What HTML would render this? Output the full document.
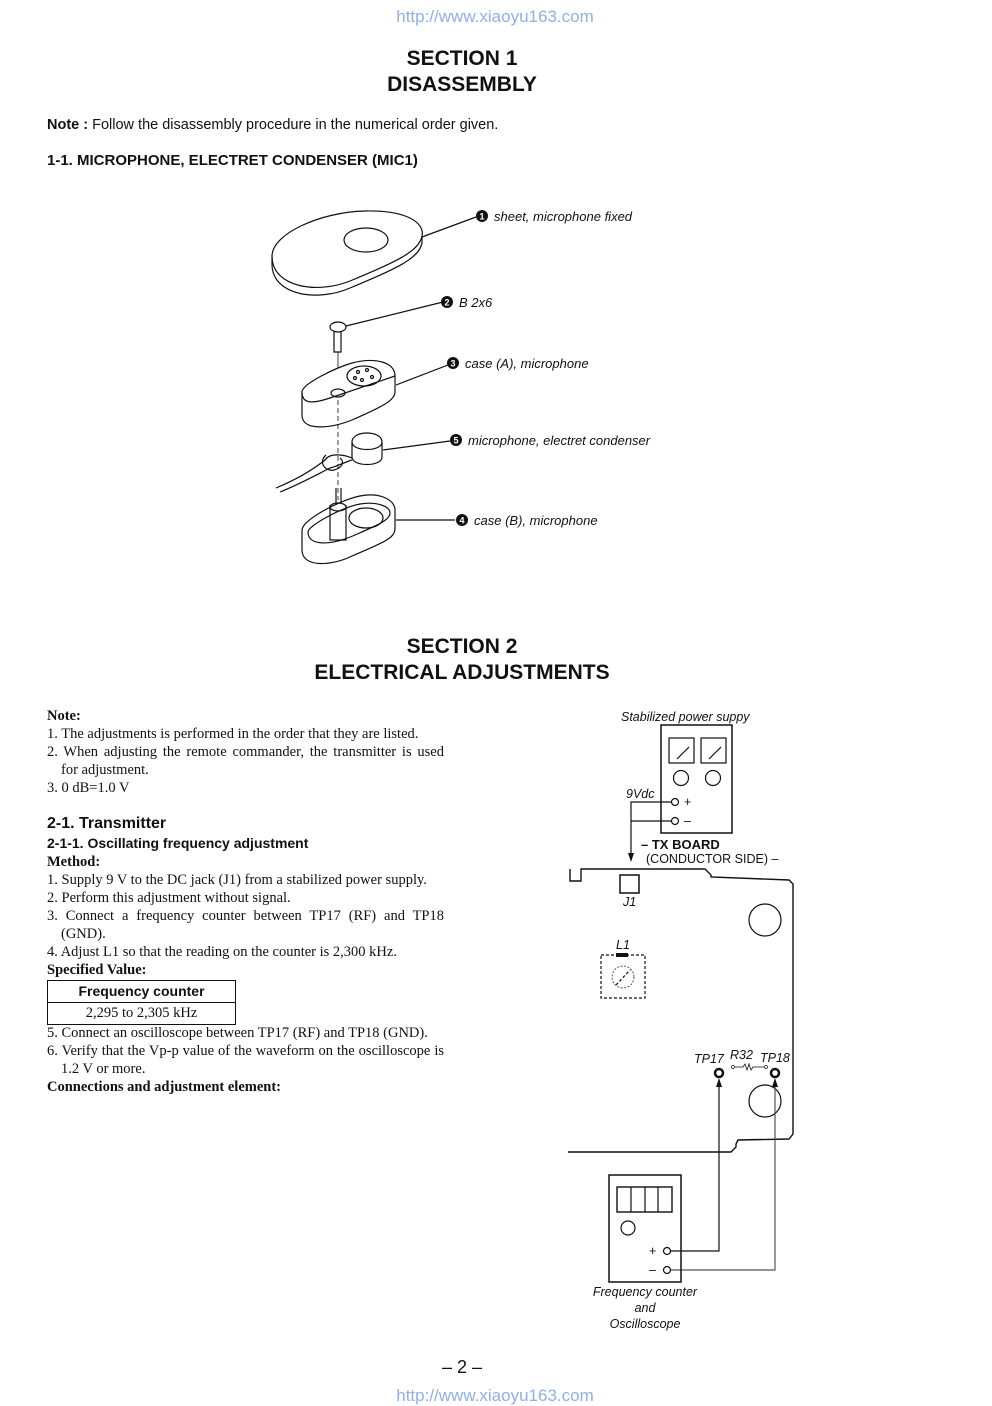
<!DOCTYPE html>
<html><head><meta charset="utf-8">
<style>
html,body{margin:0;padding:0;background:#fff;}
body{width:992px;height:1404px;position:relative;overflow:hidden;font-family:"Liberation Sans",sans-serif;color:#111;}
.a{position:absolute;white-space:nowrap;}
.s{font-family:"Liberation Serif",serif;font-size:14.5px;line-height:18px;}
.j{text-align:justify;text-align-last:justify;white-space:normal;}
.h{font-weight:bold;font-size:21px;left:0;width:924px;text-align:center;}
.wm{color:#8fb0e8;font-size:17px;left:0;width:990px;text-align:center;}
</style></head><body>
<div class="a wm" style="top:7px">http://www.xiaoyu163.com</div>
<div class="a h" style="top:47px">SECTION 1</div>
<div class="a h" style="top:73px">DISASSEMBLY</div>
<div class="a" style="left:47px;top:117px;font-size:14.5px"><b>Note :</b> Follow the disassembly procedure in the numerical order given.</div>
<div class="a" style="left:47px;top:152px;font-size:15px;font-weight:bold">1-1. MICROPHONE, ELECTRET CONDENSER (MIC1)</div>

<svg class="a" style="left:0;top:0" width="992" height="1404" viewBox="0 0 992 1404">
<g fill="none" stroke="#111" stroke-width="1.2">
<!-- sheet -->
<path d="M272 256 C272 234 320 212 365 211 C405 210 425 222 422 236 C419 252 395 262 350 281 C318 294 272 288 272 256 Z" fill="#fff"/>
<path d="M272 256 L272 264 C272 296 318 302 350 288 C395 269 419 259 422 243 L422 236"/>
<ellipse cx="366" cy="240" rx="22" ry="12"/>
<line x1="422" y1="237" x2="476" y2="217"/>
<!-- screw -->
<ellipse cx="338" cy="327" rx="8" ry="5" fill="#fff"/>
<path d="M334 331 L334 352 L341 352 L341 331"/>
<line x1="346" y1="326" x2="443" y2="302"/>
<line x1="338" y1="352" x2="338" y2="395" stroke-width="0.8"/>
<!-- case A -->
<path d="M302 392 C302 384 335 368 352 363 C375 357 395 362 395 376 L395 392 C395 400 384 406 352 420 C332 428 302 432 302 415 Z" fill="#fff"/>
<path d="M302 392 C302 404 312 404 330 398 C360 388 395 376 395 376"/>
<ellipse cx="364" cy="376" rx="17" ry="10"/>
<circle cx="358" cy="372" r="1.5"/><circle cx="367" cy="370" r="1.5"/><circle cx="372" cy="377" r="1.5"/><circle cx="362" cy="380" r="1.5"/><circle cx="355" cy="378" r="1.5"/>
<ellipse cx="338" cy="393" rx="7" ry="4"/>
<line x1="396" y1="385" x2="448" y2="365"/>
<line x1="338" y1="400" x2="338" y2="500" stroke-width="0.8" stroke-dasharray="5 3"/>
<!-- mic 5 -->
<path d="M352 442 C352 430 382 430 382 442 L382 457 C382 467 352 467 352 457 Z" fill="#fff"/>
<path d="M352 442 C352 452 382 452 382 442"/>
<path d="M276 488 C300 478 315 468 325 460 C330 452 345 455 352 458"/>
<path d="M280 492 C300 484 318 474 330 468 C338 466 345 462 352 460"/>
<path d="M326 455 C318 462 325 472 334 470 C342 468 345 462 340 458"/>
<line x1="383" y1="450" x2="450" y2="441"/>
<!-- case B -->
<path d="M302 530 C302 520 340 500 360 496 C380 492 395 500 395 510 L395 528 C395 538 385 542 352 556 C332 566 302 568 302 550 Z" fill="#fff"/>
<path d="M308 532 C308 526 340 508 360 504 C378 501 390 507 390 513 C390 520 378 525 355 535 C330 546 308 546 308 532 Z"/>
<path d="M330 505 L330 540 L346 540 L346 505"/>
<ellipse cx="338" cy="507" rx="8" ry="4"/>
<line x1="336" y1="488" x2="336" y2="503"/><line x1="341" y1="488" x2="341" y2="503"/>
<ellipse cx="366" cy="518" rx="17" ry="10"/>
<line x1="396" y1="520" x2="455" y2="520"/>
</g>
<g fill="#111" font-family="Liberation Sans,sans-serif" font-size="9" font-weight="bold" text-anchor="middle">
<circle cx="482" cy="216" r="6"/><circle cx="447" cy="302" r="6"/><circle cx="453" cy="363" r="6"/><circle cx="456" cy="440" r="6"/><circle cx="462" cy="520" r="6"/>
<g fill="#fff"><text x="482" y="219.5">1</text><text x="447" y="305.5">2</text><text x="453" y="366.5">3</text><text x="456" y="443.5">5</text><text x="462" y="523.5">4</text></g>
</g>
<g font-family="Liberation Sans,sans-serif" font-size="13" font-style="italic" fill="#111">
<text x="494" y="221">sheet, microphone fixed</text>
<text x="459" y="307">B 2x6</text>
<text x="465" y="368">case (A), microphone</text>
<text x="468" y="445">microphone, electret condenser</text>
<text x="474" y="525">case (B), microphone</text>
</g>

<!-- circuit -->
<g fill="none" stroke="#111" stroke-width="1.2">
<rect x="661" y="725" width="71" height="108" stroke-width="1.5"/>
<rect x="669" y="738" width="25" height="25"/><rect x="701" y="738" width="25" height="25"/>
<line x1="677" y1="759" x2="689" y2="747"/><line x1="709" y1="759" x2="721" y2="747"/>
<circle cx="681" cy="778" r="7.5"/><circle cx="713" cy="778" r="7.5"/>
<circle cx="675" cy="802" r="3.5"/><circle cx="675" cy="821" r="3.5"/>
<path d="M671 802 L631 802 L631 857"/><path d="M671 821 L631 821"/>
<path d="M570 869 L570 881 L581 881 L581 869 L705 869 L711 875 L711 877 L789 880 L793 884 L793 1134 L789 1139 L738 1140 L736 1144 L736 1147 L731 1152 L568 1152" stroke-width="1.4"/>
<rect x="620" y="875" width="19" height="18" stroke-width="1.5"/>
<circle cx="765" cy="920" r="16"/>
<circle cx="765" cy="1101" r="16"/>
<rect x="601" y="955" width="44" height="43" stroke-dasharray="3 2"/>
<circle cx="623" cy="977" r="11" stroke-width="0.7" stroke-dasharray="2 1.5"/>
<line x1="616" y1="985" x2="630" y2="970" stroke-dasharray="3 2"/>
<circle cx="719" cy="1073" r="4" stroke-width="2.5"/>
<circle cx="775" cy="1073" r="4" stroke-width="2.5"/>
<circle cx="733" cy="1067" r="1.5" stroke-width="0.7"/><circle cx="766" cy="1067" r="1.5" stroke-width="0.7"/>
<path d="M735 1067 L743 1067 L745 1064 L747 1070 L749 1064 L751 1070 L753 1067 L764 1067" stroke-width="0.8"/>
<path d="M719 1084 L719 1251 L671 1251"/>
<path d="M775 1084 L775 1270 L671 1270" stroke="#555"/>
<rect x="609" y="1175" width="72" height="107" stroke-width="1.5"/>
<rect x="617" y="1187" width="55" height="25" stroke-width="1.4"/>
<line x1="631" y1="1187" x2="631" y2="1212"/><line x1="645" y1="1187" x2="645" y2="1212"/><line x1="658" y1="1187" x2="658" y2="1212"/>
<circle cx="628" cy="1228" r="7"/>
<circle cx="667" cy="1251" r="3.5"/><circle cx="667" cy="1270" r="3.5"/>
</g>
<rect x="616" y="953" width="12" height="4" fill="#111"/>
<path d="M631 862 L628 853 L634 853 Z M719 1078 L716 1087 L722 1087 Z M775 1078 L772 1087 L778 1087 Z" fill="#111"/>
<g font-family="Liberation Sans,sans-serif" font-size="12.5" fill="#111">
<text x="621" y="721" font-style="italic">Stabilized power suppy</text>
<text x="626" y="798" font-style="italic">9Vdc</text>
<text x="684" y="806">+</text><text x="684" y="825">–</text>
<text x="641" y="849" font-weight="bold" font-size="13">– TX BOARD</text>
<text x="646" y="863">(CONDUCTOR SIDE) –</text>
<text x="623" y="906" font-style="italic">J1</text>
<text x="616" y="949" font-style="italic">L1</text>
<text x="694" y="1063" font-style="italic">TP17</text>
<text x="730" y="1059" font-style="italic">R32</text>
<text x="760" y="1062" font-style="italic">TP18</text>
<text x="649" y="1255">+</text><text x="649" y="1274">–</text>
<g font-style="italic" text-anchor="middle"><text x="645" y="1296">Frequency counter</text><text x="645" y="1312">and</text><text x="645" y="1328">Oscilloscope</text></g>
</g>
</svg>

<div class="a h" style="top:635px">SECTION 2</div>
<div class="a h" style="top:661px">ELECTRICAL ADJUSTMENTS</div>

<div class="a s" style="left:47px;top:707px"><b>Note:</b></div>
<div class="a s" style="left:47px;top:725px">1. The adjustments is performed in the order that they are listed.</div>
<div class="a s j" style="left:47px;top:743px;width:397px">2. When adjusting the remote commander, the transmitter is used</div>
<div class="a s" style="left:61px;top:761px">for adjustment.</div>
<div class="a s" style="left:47px;top:779px">3. 0 dB=1.0 V</div>
<div class="a" style="left:47px;top:815px;font-size:16px;font-weight:bold">2-1. Transmitter</div>
<div class="a" style="left:47px;top:835px;font-size:14px;font-weight:bold">2-1-1. Oscillating frequency adjustment</div>
<div class="a s" style="left:47px;top:853px"><b>Method:</b></div>
<div class="a s" style="left:47px;top:871px">1. Supply 9 V to the DC jack (J1) from a stabilized power supply.</div>
<div class="a s" style="left:47px;top:889px">2. Perform this adjustment without signal.</div>
<div class="a s j" style="left:47px;top:907px;width:397px">3. Connect a frequency counter between TP17 (RF) and TP18</div>
<div class="a s" style="left:61px;top:925px">(GND).</div>
<div class="a s" style="left:47px;top:943px">4. Adjust L1 so that the reading on the counter is 2,300 kHz.</div>
<div class="a s" style="left:47px;top:961px"><b>Specified Value:</b></div>
<div class="a" style="left:47px;top:980px;width:187px;height:43px;border:1.5px solid #111;">
 <div style="height:21px;border-bottom:1px solid #111;text-align:center;font-weight:bold;font-size:14px;line-height:21px">Frequency counter</div>
 <div style="text-align:center;font-family:'Liberation Serif',serif;font-size:14.5px;line-height:21px">2,295 to 2,305 kHz</div>
</div>
<div class="a s" style="left:47px;top:1024px">5. Connect an oscilloscope between TP17 (RF) and TP18 (GND).</div>
<div class="a s j" style="left:47px;top:1042px;width:397px">6. Verify that the Vp-p value of the waveform on the oscilloscope is</div>
<div class="a s" style="left:61px;top:1060px">1.2 V or more.</div>
<div class="a s" style="left:47px;top:1078px"><b>Connections and adjustment element:</b></div>

<div class="a" style="left:0;width:924px;text-align:center;top:1357px;font-size:18px">– 2 –</div>
<div class="a wm" style="top:1386px">http://www.xiaoyu163.com</div>
</body></html>
